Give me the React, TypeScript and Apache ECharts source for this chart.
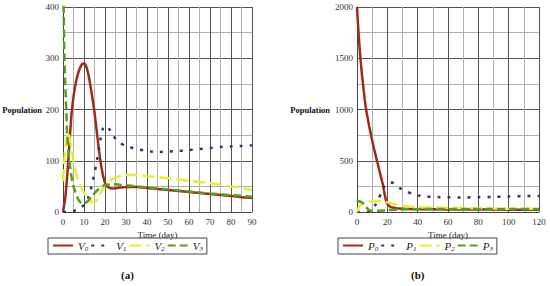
import React, { useEffect, useRef } from "react";
import * as echarts from "echarts";

type Pt = [number, number];

const V0: Pt[] = [[0,0],[1,25],[2,70],[3,130],[4,188],[5,225],[6,250],[7,268],[8,280],[9,288],[10,290],[11,285],[12,270],[13,248],[14,222],[15,195],[16,160],[17,125],[18,95],[19,72],[20,57],[21,50],[23,46],[26,47],[30,49],[35,49],[40,47],[45,45],[50,43],[55,41],[60,39],[65,37],[70,35],[75,33],[80,31],[85,29],[90,28]];
const V1: Pt[] = [[0,0],[3,0],[5,2],[7,5],[9,10],[10,14],[11,20],[12,28],[13,40],[14,57],[15,76],[16,96],[17,120],[18,145],[19,163],[20,168],[21,167],[22,162],[24,148],[27,135],[30,129],[35,123],[40,119],[45,117],[50,118],[55,119],[60,121],[65,123],[70,125],[75,127],[80,128],[85,129],[90,130]];
const V2: Pt[] = [[0,60],[1,120],[2,150],[2.5,155],[3,148],[4,125],[5,100],[6,80],[7,65],[8,55],[9,45],[10,38],[11,32],[12,27],[13,22],[14,19],[15,19],[16,23],[17,30],[18,38],[20,52],[22,60],[25,67],[28,71],[30,72],[35,72],[40,70],[50,66],[60,61],[70,56],[80,50],[90,43]];
const V3: Pt[] = [[0,450],[0.3,400],[0.6,320],[1,260],[1.5,205],[2,150],[3,100],[4,70],[5,50],[6,38],[7,27],[8,20],[9,17],[10,17],[12,22],[14,32],[17,45],[20,53],[25,54],[30,52],[40,48],[50,44],[60,40],[70,36],[80,33],[90,30]];

const P0: Pt[] = [[0,2000],[1,1750],[2,1550],[3,1380],[4,1240],[5,1110],[6,1000],[7,920],[8,840],[9,770],[10,700],[11,630],[12,570],[13,510],[14,450],[15,390],[16,330],[17,270],[18,190],[19,120],[20,82],[21,62],[22,50],[25,39],[30,32],[40,28],[60,25],[80,24],[100,23],[120,22]];
const P1: Pt[] = [[0,0],[6,0],[8,5],[10,25],[11,40],[12,65],[14,125],[16,185],[18,250],[19.5,275],[22,287],[24,283],[26,260],[28,235],[32,205],[36,178],[40,162],[45,152],[50,147],[55,145],[60,143],[70,142],[80,145],[90,148],[100,152],[110,155],[120,157]];
const P2: Pt[] = [[0,0],[1,40],[2,65],[4,85],[6,95],[8,100],[10,105],[13,108],[16,105],[20,95],[25,75],[30,60],[35,52],[40,47],[50,42],[60,39],[70,37],[80,35],[90,33],[100,32],[110,31],[120,30]];
const P3: Pt[] = [[0,95],[1,105],[2,102],[3,95],[4,85],[5,70],[6,50],[7,32],[8,20],[10,10],[12,10],[15,13],[20,18],[30,25],[40,28],[60,30],[80,30],[100,30],[120,30]];

const LEFT_NAMES = ["V0", "V1", "V2", "V3"];
const RIGHT_NAMES = ["P0", "P1", "P2", "P3"];

const C_RED = "#9b2d1a";
const C_PURPLE = "#3b2f6e";
const C_YELLOW = "#e6ef2c";
const C_GREEN = "#5a9e1e";

const SERIF = "'Liberation Serif', 'DejaVu Serif', serif";

export default function App() {
  const ref = useRef<HTMLDivElement>(null);
  useEffect(() => {
    if (!ref.current) return;
    const chart = echarts.init(ref.current, undefined, { renderer: "svg" });

    const styles = [
      { color: C_RED, type: "solid" as any },
      { color: C_PURPLE, type: [3, 7] as any },
      { color: C_YELLOW, type: [12, 5] as any },
      { color: C_GREEN, type: [8, 4] as any },
    ];

    const mkSeries = (name: string, data: Pt[], idx: number, i: number) => ({
      name,
      type: "line",
      xAxisIndex: idx,
      yAxisIndex: idx,
      data,
      smooth: 0.2,
      symbol: "none",
      showSymbol: false,
      clip: true,
      lineStyle: { color: styles[i].color, width: 2.5, type: styles[i].type, cap: "butt" },
      itemStyle: { color: styles[i].color },
    });

    const xAxisBase = (idx: number, max: number, interval: number) => ({
      type: "value",
      gridIndex: idx,
      min: 0,
      max,
      interval,
      name: "Time (day)",
      nameLocation: "middle",
      nameGap: 17,
      nameTextStyle: { fontFamily: SERIF, fontSize: 9, color: "#222" },
      axisLine: { show: true, lineStyle: { color: "#444", width: 1 } },
      axisTick: { show: false },
      axisLabel: { fontFamily: SERIF, fontSize: 9, color: "#333", margin: 5 },
      splitLine: { show: true, lineStyle: { color: "#555", width: 1 } },
      minorTick: { show: false, splitNumber: 2 },
      minorSplitLine: { show: true, lineStyle: { color: "#b0b0b0", width: 1 } },
    });

    const yAxisBase = (idx: number, max: number, interval: number) => ({
      type: "value",
      gridIndex: idx,
      min: 0,
      max,
      interval,
      axisLine: { show: true, lineStyle: { color: "#444", width: 1 } },
      axisTick: { show: false },
      axisLabel: {
        fontFamily: SERIF,
        fontSize: 9,
        color: "#333",
        margin: 4,
        formatter: (v: number) => String(v),
      },
      splitLine: { show: true, lineStyle: { color: "#555", width: 1 } },
      minorTick: { show: false, splitNumber: 2 },
      minorSplitLine: { show: true, lineStyle: { color: "#b0b0b0", width: 1 } },
    });

    const rich = {
      v: { fontFamily: SERIF, fontStyle: "italic", fontSize: 11, color: "#222" },
      s: { fontFamily: SERIF, fontStyle: "italic", fontSize: 7, color: "#222", padding: [6, 0, 0, 0] },
    };
    const legendBase = (left: number, names: string[]) => ({
      left,
      top: 238,
      data: names,
      orient: "horizontal",
      itemWidth: 20,
      itemHeight: 11,
      itemGap: 2,
      padding: [2, 4],
      borderColor: "#444",
      borderWidth: 1,
      selectedMode: false,
      itemStyle: { opacity: 0, borderWidth: 0 },
      formatter: (n: string) => `{v|${n.charAt(0)}}{s|${n.slice(1)}}`,
      textStyle: { rich, fontFamily: SERIF },
    });

    chart.setOption({
      animation: false,
      backgroundColor: "#ffffff",
      grid: [
        { left: 63, top: 7, width: 189, height: 205 },
        { left: 357, top: 7, width: 182, height: 205 },
      ],
      xAxis: [xAxisBase(0, 90, 10), xAxisBase(1, 120, 20)],
      yAxis: [yAxisBase(0, 400, 100), yAxisBase(1, 2000, 500)],
      legend: [legendBase(48, LEFT_NAMES), legendBase(338, RIGHT_NAMES)],
      series: [
        mkSeries("V0", V0, 0, 0),
        mkSeries("V1", V1, 0, 1),
        mkSeries("V2", V2, 0, 2),
        mkSeries("V3", V3, 0, 3),
        mkSeries("P0", P0, 1, 0),
        mkSeries("P1", P1, 1, 1),
        mkSeries("P2", P2, 1, 2),
        mkSeries("P3", P3, 1, 3),
      ],
      graphic: [
        { type: "text", right: 508, top: 105, style: { text: "Population", font: `bold 8.5px ${SERIF}`, fill: "#111" } },
        { type: "text", right: 220, top: 105, style: { text: "Population", font: `bold 8.5px ${SERIF}`, fill: "#111" } },
        { type: "text", left: 121, top: 269, style: { text: "(a)", font: `bold 11px ${SERIF}`, fill: "#111" } },
        { type: "text", left: 411, top: 269, style: { text: "(b)", font: `bold 11px ${SERIF}`, fill: "#111" } },
      ],
    } as any);

    return () => chart.dispose();
  }, []);

  return (
    <div
      ref={ref}
      style={{ position: "fixed", left: 0, top: 0, width: 550, height: 286, background: "#fff" }}
    />
  );
}
